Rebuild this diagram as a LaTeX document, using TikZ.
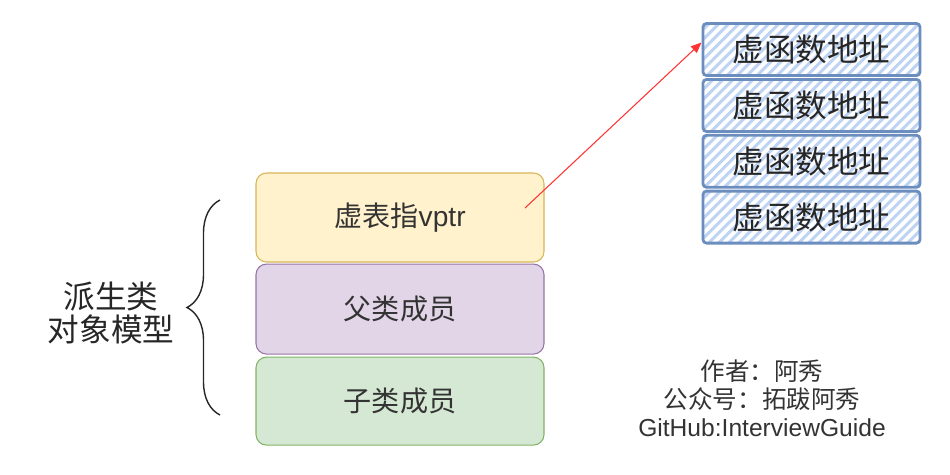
\documentclass[tikz,border=0pt]{standalone}
\usepackage{fontspec}
\setmainfont{Liberation Sans}
\newfontfamily\cjk{Noto Sans CJK SC}
\usetikzlibrary{arrows.meta,positioning,patterns.meta,decorations.pathreplacing}
\definecolor{ptrfill}{HTML}{FFF2CC}
\definecolor{ptrdraw}{HTML}{D6B656}
\definecolor{basefill}{HTML}{E1D5E7}
\definecolor{basedraw}{HTML}{9673A6}
\definecolor{subfill}{HTML}{D5E8D4}
\definecolor{subdraw}{HTML}{82B366}
\definecolor{vfdraw}{HTML}{6C8EBF}
\definecolor{vfhatch}{HTML}{BFD4F2}
\definecolor{arrowred}{HTML}{FF3333}
\tikzset{layer/.style={rectangle,rounded corners=6pt,line width=0.6pt,minimum width=5.76cm,text=black!80,font=\fontsize{16}{18}\selectfont}}
\tikzset{vfbox/.style={rectangle,draw=vfdraw,line width=1.6pt,rounded corners=2pt,minimum width=4.34cm,minimum height=1.04cm,pattern={Lines[angle=45,distance=4pt,line width=1.8pt]},pattern color=vfhatch,text=black!85,font=\cjk\fontsize{18}{20}\selectfont}}

\begin{document}
\begin{tikzpicture}
          \useasboundingbox (0,0) rectangle (19,-9.5);

          % Objet derive
          \node [layer,fill=ptrfill,draw=ptrdraw,minimum height=1.78cm] (vptr) at (8.0,-4.35) {{\cjk 虚表指}vptr};
          \node [layer,fill=basefill,draw=basedraw,minimum height=1.80cm,below=0.02cm of vptr] (base) {\cjk 父类成员};
          \node [layer,fill=subfill,draw=subdraw,minimum height=1.76cm,below=0.04cm of base] (sub) {\cjk 子类成员};

          % Accolade
          \coordinate (bracetop) at (4.4,-4.0);
          \coordinate (bracebot) at (4.4,-8.3);
          \draw [decorate,decoration={brace,amplitude=0.66cm,aspect=0.5},line width=0.8pt,black!85] (bracebot) -- (bracetop);
          \node [align=center,text=black!85,font=\cjk\fontsize{18}{19}\selectfont] (model) at (2.22,-6.26) {派生类\\对象模型};

          % Table virtuelle
          \node [vfbox] (vf1) at (16.23,-0.99) {虚函数地址};
          \node [vfbox,below=0.02cm of vf1] (vf2) {虚函数地址};
          \node [vfbox,below=0.02cm of vf2] (vf3) {虚函数地址};
          \node [vfbox,below=0.02cm of vf3] (vf4) {虚函数地址};

          % Fleche
          \coordinate (vpstart) at (10.5,-4.16);
          \draw [-{Triangle[length=6pt,width=5pt]},arrowred,line width=0.6pt] (vpstart) -- ([yshift=0.14cm]vf1.west);

          % Auteur
          \node [align=center,text=black!80,font=\fontsize{14}{16}\selectfont] (auteur) at (15.24,-7.96)
                {{\cjk 作者：阿秀}\\{\cjk 公众号：拓跋阿秀}\\GitHub:InterviewGuide};
\end{tikzpicture}
\end{document}
